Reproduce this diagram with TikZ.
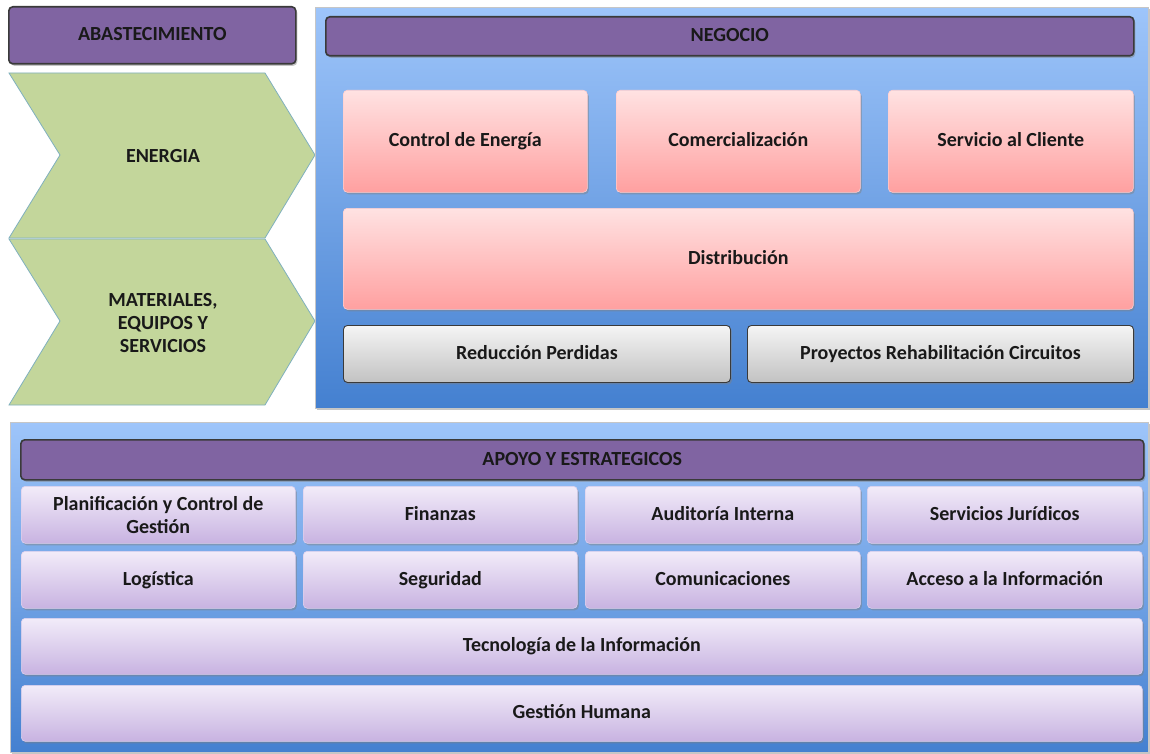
\documentclass[tikz,border=0pt]{standalone}
\usepackage{fontspec}
\setmainfont{Carlito}
\usetikzlibrary{shadows}

\definecolor{barpurple}{HTML}{8064A2}
\definecolor{barline}{HTML}{3A3A3A}
\definecolor{chevgreen}{HTML}{C3D69B}
\definecolor{chevline}{HTML}{7FB0BE}
\definecolor{paneltop}{HTML}{9EC5FA}
\definecolor{panelbot}{HTML}{4480D0}
\definecolor{pinktop}{HTML}{FFE2E2}
\definecolor{pinkbot}{HTML}{FFA0A0}
\definecolor{lilactop}{HTML}{F2ECF9}
\definecolor{lilacbot}{HTML}{C8B3E1}
\definecolor{greytop}{HTML}{F5F5F5}
\definecolor{greybot}{HTML}{C2C2C2}

\tikzset{
  txt/.style={font=\fontsize{20}{23}\selectfont\bfseries, text=black!90, align=center},
  box/.style={txt, anchor=north west, inner sep=0pt, rounded corners=4pt,
    text height=1.3em, text depth=0.2em},
  shade/.style={drop shadow={opacity=0.45, shadow xshift=1.5pt, shadow yshift=-2pt}},
  panel/.style={box, rounded corners=0pt, draw=gray!45, line width=0.8pt,
    top color=paneltop, bottom color=panelbot, shade},
  bar/.style={box, fill=barpurple, draw=barline, line width=1.6pt, shade},
  pinkbox/.style={box, draw=pinkbot!50!white, line width=0.6pt,
    top color=pinktop, bottom color=pinkbot, shade},
  lilacbox/.style={box, draw=lilacbot!60!white, line width=0.6pt,
    top color=lilactop, bottom color=lilacbot, shade},
  greybox/.style={box, draw=barline, line width=0.9pt,
    top color=greytop, bottom color=greybot, shade},
  chevron/.style={fill=chevgreen, draw=chevline, line width=0.8pt}
}

\begin{document}
\begin{tikzpicture}[x=1pt, y=-1pt]
\useasboundingbox[fill=white] (0,0) rectangle (1150,754);

% abastecimiento
\node[bar, minimum width=287pt, minimum height=57pt] (abast) at (8,6) {ABASTECIMIENTO};
\draw[chevron] (9,73) -- (265,73) -- (315,155) -- (265,238) -- (9,238) -- (60,155) -- cycle;
\node[txt] (energia) at (163,156) {ENERGIA};
\draw[chevron] (9,239) -- (265,239) -- (315,321) -- (265,405) -- (9,405) -- (60,321) -- cycle;
\node[txt] (materiales) at (163,323) {MATERIALES,\\EQUIPOS Y\\SERVICIOS};

% negocio
\node[panel, minimum width=833pt, minimum height=401pt] (negocio) at (315,7) {};
\node[bar, minimum width=808pt, minimum height=39pt] (negbar) at (325,16) {NEGOCIO};
\node[pinkbox, minimum width=244pt, minimum height=102pt] (control) at (343,90) {Control de Energía};
\node[pinkbox, minimum width=244pt, minimum height=102pt] (comercial) at (616,90) {Comercialización};
\node[pinkbox, minimum width=245pt, minimum height=102pt] (servicio) at (888,90) {Servicio al Cliente};
\node[pinkbox, minimum width=790pt, minimum height=101pt] (distrib) at (343,208) {Distribución};
\node[greybox, minimum width=387pt, minimum height=57pt] (reduccion) at (343,325) {Reducción Perdidas};
\node[greybox, minimum width=386pt, minimum height=57pt] (proyectos) at (747,325) {Proyectos Rehabilitación Circuitos};

% apoyo y estrategicos
\node[panel, minimum width=1138pt, minimum height=330pt] (apoyo) at (10,422) {};
\node[bar, minimum width=1123pt, minimum height=40pt] (apoyobar) at (20,439) {APOYO Y ESTRATEGICOS};
\node[lilacbox, text height={}, text depth={}, minimum width=274pt, minimum height=57pt] (planif) at (21,486) {Planificación y Control de\\Gestión};
\node[lilacbox, minimum width=274pt, minimum height=57pt] (finanzas) at (303,486) {Finanzas};
\node[lilacbox, minimum width=275pt, minimum height=57pt] (auditoria) at (585,486) {Auditoría Interna};
\node[lilacbox, minimum width=275pt, minimum height=57pt] (juridicos) at (867,486) {Servicios Jurídicos};
\node[lilacbox, minimum width=274pt, minimum height=57pt] (logistica) at (21,551) {Logística};
\node[lilacbox, minimum width=274pt, minimum height=57pt] (seguridad) at (303,551) {Seguridad};
\node[lilacbox, minimum width=275pt, minimum height=57pt] (comunic) at (585,551) {Comunicaciones};
\node[lilacbox, minimum width=275pt, minimum height=57pt] (acceso) at (867,551) {Acceso a la Información};
\node[lilacbox, minimum width=1121pt, minimum height=56pt] (tecnologia) at (21,618) {Tecnología de la Información};
\node[lilacbox, minimum width=1121pt, minimum height=56pt] (humana) at (21,685) {Gestión Humana};
\end{tikzpicture}
\end{document}
